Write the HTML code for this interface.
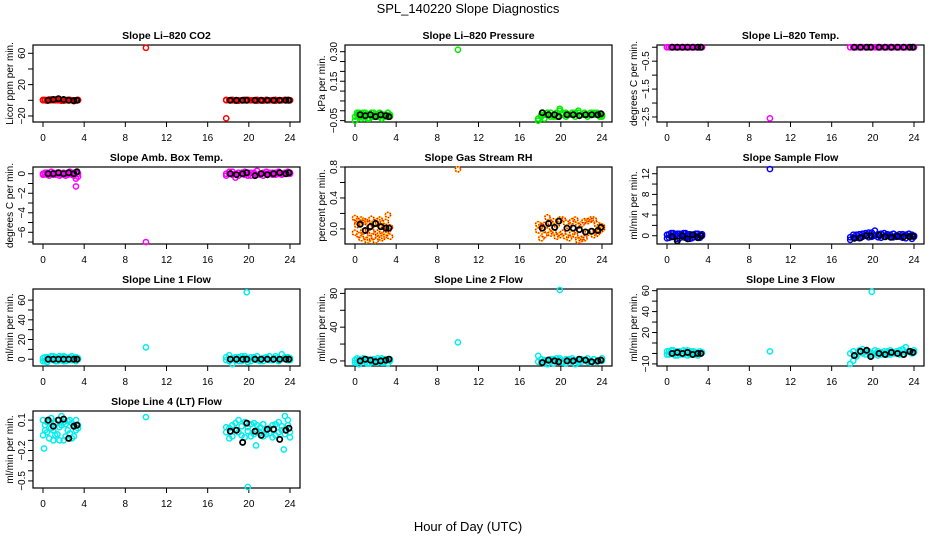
<!DOCTYPE html>
<html><head><meta charset="utf-8"><style>
html,body{margin:0;padding:0;background:#fff}
svg{display:block;font-family:"Liberation Sans",Arial,sans-serif}
</style></head><body>
<svg id="chart" width="936" height="540" viewBox="0 0 936 540">
<text x="468" y="13" text-anchor="middle" font-size="13">SPL_140220  Slope Diagnostics</text>
<text x="468" y="531" text-anchor="middle" font-size="13">Hour of Day (UTC)</text>
</svg>
<script>
// shared time arrays (hours UTC)
const colorTimes = [0,0.2,0.4,0.6,0.8,1.0,1.2,1.4,1.6,1.8,2.0,2.2,2.4,2.6,2.8,3.0,3.2,3.4,
  17.8,18.1,18.4,18.7,19.0,19.3,19.6,19.9,20.2,20.5,20.8,21.1,21.4,21.7,22.0,22.3,22.6,22.9,23.2,23.5,23.8,24.0];
const blackTimes = [0.5,1.0,1.5,2.0,2.5,3.0,3.3,18.2,18.8,19.4,19.8,20.6,21.2,21.8,22.4,23.0,23.6,23.9];
const xTicks = [0,4,8,12,16,20,24];

// Panel 1: CO2
const co2A = [0,0.5,0,1,0,0.5,1,0,0.5,0,-0.5,0,0.5,0,0,-1,0,0.5, 0,0,0.5,0,-0.5,0,0,0.5,0,0,-0.5,0,0,0.5,0,0,-0.5,0,0,0.5,0,0];
const co2B = [0.5,0,-0.5,0,1,0,0,0.5,0,-0.5,0,0,0,0.5,0,0,0,0, 0.5,0,0,-0.5,0,0,0.5,0,0,0,0.5,0,-0.5,0,0,0,0.5,0,0,0,0.5,0];
const co2Black = [0,1,2,1,0,-0.5,0, 0,0,0,0,0,0,0,0,0,0,0];
const co2OutT = [10,17.8], co2OutV = [67,-23];
// Panel 2: pressure
const presA = [-0.05,-0.02,-0.01,-0.03,-0.02,-0.01,-0.04,-0.02,-0.03,-0.01,-0.02,-0.03,-0.01,-0.02,-0.03,-0.02,-0.01,-0.03,
  -0.05,-0.03,-0.02,-0.01,-0.03,-0.02,-0.01,0.0,-0.02,-0.01,-0.02,-0.02,-0.01,0.0,-0.02,-0.01,-0.02,-0.01,-0.02,-0.01,-0.02,-0.03];
const presB = [-0.03,-0.01,-0.03,-0.04,-0.01,-0.03,-0.02,-0.04,-0.01,-0.03,-0.02,-0.02,-0.03,-0.04,-0.02,-0.03,-0.03,-0.02,
  -0.04,-0.02,-0.04,-0.02,-0.01,-0.03,-0.03,0.01,-0.01,-0.03,-0.02,-0.01,-0.03,-0.01,-0.02,-0.02,-0.03,-0.02,-0.01,-0.02,-0.03,-0.02];
const presBlack = [-0.02,-0.025,-0.02,-0.03,-0.02,-0.025,-0.03, -0.01,-0.02,-0.02,-0.03,-0.02,-0.02,-0.025,-0.02,-0.02,-0.02,-0.015];
const presOutT = [10], presOutV = [0.31];
// Panel 3: Li-820 temp
const tempA = [0,0,0,0,0,0,0,0,0,0,0,0,0,0,0,0,0,0, 0,0,0,0,0,0,0,0,0,0,0,0,0,0,0,0,0,0,0,0,0,0];
const tempB = [0,0,0,0,0,0,0,0,0,0,0,0,0,0,0,0,0,0, 0,0,0,0,0,0,0,0,0,0,0,0,0,0,0,0,0,0,0,0,0,0];
const tempBlack = [0,0,0,0,0,0,0, 0,0,0,0,0,0,0,0,0,0,0];
const tempOutT = [10], tempOutV = [-2.55];
// Panel 4: amb box temp
const ambA = [0,0.1,-0.1,0,0.2,-0.1,0,0.1,-0.2,0,0.1,0,-0.1,0.2,0,-0.2,0.1,-0.3, 0,0.2,-0.1,-0.4,0.1,0,0.2,-0.2,0.1,0,0.3,-0.1,0.1,0.2,0,0.1,-0.1,0.2,0,0.1,0.2,0];
const ambB = [-0.1,0,0.1,-0.2,0,0.1,-0.1,0,0.1,-0.1,0,-0.2,0.1,0,-0.1,0.1,-0.5,0, -0.2,0,0.2,0,-0.2,0.1,-0.1,0.1,-0.2,0.1,-0.1,0,-0.2,0,0.1,-0.1,0.1,0,-0.1,0,0,0.1];
const ambBlack = [0,0,0.1,0,0.1,0,0.2, 0,-0.1,0,0.1,-0.2,0,-0.1,0,0.1,0,0.1];
const ambOutT = [3.2,10], ambOutV = [-1.3,-7.0];
// Panel 5: RH
const rhA = [0.14,0.05,-0.08,0.12,-0.03,0.1,-0.15,0.02,0.13,-0.1,0.07,-0.05,0.12,-0.12,0.04,0.09,-0.02,-0.1,
  -0.02,-0.12,0.05,0.15,-0.06,0.1,-0.1,0.12,-0.05,0.08,-0.12,0.1,-0.08,0.04,-0.13,0.1,-0.05,0.12,-0.08,0.06,-0.02,0.03];
const rhB = [-0.05,0.1,0.08,-0.12,0.1,-0.08,0.08,-0.12,-0.03,0.06,-0.15,0.1,-0.07,0.03,-0.1,-0.05,0.18,0.02,
  0.06,0.04,-0.08,-0.02,0.08,-0.04,0.05,-0.08,0.12,-0.1,0.03,-0.06,0.12,-0.15,0.06,-0.12,0.1,-0.03,0.12,-0.06,0.04,0.0];
const rhBlack = [0.06,-0.02,0.03,0.07,0.03,0.01,0.01, 0.01,0.07,0.02,0.1,0.01,0.01,-0.01,-0.04,-0.03,-0.02,0.02];
const rhOutT = [10], rhOutV = [0.77];
// Panel 6: sample flow
const flowA = [-0.5,0.3,-0.2,0.5,0,-0.6,0.4,0.1,-0.3,0.5,-0.2,0.3,-0.5,0.2,0.4,-0.3,0.1,0.3, -0.8,-0.3,0.2,-0.5,0.4,0,0.6,-0.2,1.0,0.3,-0.4,0.5,0,-0.3,0.4,-0.2,0.3,-0.4,0.2,0.4,-0.6,0];
const flowB = [0.2,-0.4,0.5,-0.2,0.3,0.4,-0.5,0.3,0.5,-0.4,0.3,-0.6,0.2,-0.3,-0.1,0.4,-0.4,0, -0.3,0.2,-0.4,0.3,-0.2,0.5,-0.3,0.6,0,-0.3,0.4,-0.2,0.3,0.2,-0.3,0.1,-0.2,0.3,-0.5,-0.1,0.2,-0.2];
const flowBlack = [-0.2,-1.0,0,-0.6,0.2,-0.4,0, -0.5,-0.4,0,0,0.1,-0.2,-0.3,-0.1,-0.2,-0.2,-0.1];
const flowOutT = [10], flowOutV = [12.9];
// Panel 7: line 1
const l1A = [-2,2,-3,1,3,-1,2,-2,3,0,-2,2,1,-1,3,0,-2,1, -1,4,-5,2,-2,3,1,-3,2,0,3,-2,1,2,-1,0,3,-1,5,2,-1,1];
const l1B = [1,-2,2,-1,0,3,-2,1,-1,2,3,-2,0,2,-1,1,2,0, 2,-2,1,-1,2,-2,3,1,-2,2,-1,0,-2,1,3,-1,1,-2,0,1,2,-1];
const l1Black = [0,0,0,0,0,0,0, 0,0,0,0,0,0,0,0,0,0,0];
const l1OutT = [10,19.8], l1OutV = [12,68];
// Panel 8: line 2
const l2A = [-2,3,-4,1,3,-1,2,-3,1,0,-2,3,1,-2,2,0,-3,2, 6,-2,1,-4,2,-3,3,1,-2,2,0,3,-4,2,-1,1,3,-2,2,0,1,3];
const l2B = [1,-2,2,-1,0,2,-3,1,-1,2,1,-2,0,3,-2,1,2,0, -1,2,-3,1,-1,2,-1,3,-1,-3,2,-1,1,-2,2,1,-1,0,2,-1,1,0];
const l2Black = [0,2,1,-1,0,1,2, -2,1,0,-1,0,0,2,1,-1,0,1];
const l2OutT = [10,19.9], l2OutV = [22,84];
// Panel 9: line 3
const l3A = [2,-1,3,0,-2,2,1,-1,3,2,-2,0,1,2,-1,0,2,1, -10,-7,-3,2,4,-1,2,0,3,-2,1,2,-1,3,0,2,-1,4,6,2,1,3];
const l3B = [-1,2,0,3,1,-2,2,0,-1,1,3,-1,2,0,1,-2,0,1, 0,2,-1,3,0,2,1,-2,0,2,-1,0,2,-1,1,0,3,-1,1,2,0,1];
const l3Black = [0,1,0,1,-1,0,0, -2,2,3,-3,0,-1,1,0,-1,2,1];
const l3OutT = [10,19.9], l3OutV = [2,59];
// Panel 10: line 4 (LT)
const l4A = [0.1,0.05,-0.02,0.08,0.12,0.0,-0.05,0.1,0.03,0.14,-0.1,0.06,0.0,0.1,-0.08,0.05,0.1,0.02,
  -0.02,-0.08,0.05,0.0,0.1,-0.05,0.08,0.03,-0.06,0.07,0.0,-0.03,0.06,-0.04,0.02,0.05,-0.05,0.08,0.0,0.14,0.05,-0.02];
const l4B = [-0.05,0.0,0.08,-0.08,0.02,-0.1,0.07,-0.04,-0.1,0.05,0.08,-0.06,0.09,-0.03,0.07,-0.06,0.0,0.05,
  0.03,0.02,-0.06,0.07,-0.02,0.04,-0.07,-0.01,0.06,-0.04,0.05,0.03,-0.06,0.0,-0.03,-0.07,0.06,-0.02,0.04,-0.04,0.1,-0.07];
const l4Black = [0.1,0.04,0.1,0.11,-0.08,0.04,0.05, -0.01,0.0,-0.12,0.07,-0.01,-0.05,0.01,0.01,-0.09,0.0,0.02];
const l4OutT = [10,19.9,0.1,23.4,20.7], l4OutV = [0.13,-0.56,-0.18,-0.19,-0.15];

const panels = [
 {col:0,row:0,name:'co2',title:'Slope Li\u2013820 CO2',ylab:'Licor ppm per min.',ylim:[-27.7,70.6],ticks:[-20,0,20,40,60],labels:['-20','','20','','60'],color:'#ff0000',a:co2A,b:co2B,k:co2Black,ot:co2OutT,ov:co2OutV},
 {col:1,row:0,name:'pressure',title:'Slope Li\u2013820 Pressure',ylab:'kPa per min.',ylim:[-0.057,0.334],ticks:[-0.05,0,0.05,0.10,0.15,0.20,0.25,0.30],labels:['-0.05','','','','0.15','','','0.30'],color:'#00ee00',a:presA,b:presB,k:presBlack,ot:presOutT,ov:presOutV},
 {col:2,row:0,name:'li820-temp',title:'Slope Li\u2013820 Temp.',ylab:'degrees C per min.',ylim:[-2.68,0.08],ticks:[-2.5,-2,-1.5,-1,-0.5,0],labels:['-2.5','','-1.5','','-0.5',''],color:'#ff00ff',a:tempA,b:tempB,k:tempBlack,ot:tempOutT,ov:tempOutV},
 {col:0,row:1,name:'amb-box-temp',title:'Slope Amb. Box Temp.',ylab:'degrees C per min.',ylim:[-7.2,0.69],ticks:[-7,-6,-5,-4,-3,-2,-1,0],labels:['','-6','','-4','','-2','','0'],color:'#ff00ff',a:ambA,b:ambB,k:ambBlack,ot:ambOutT,ov:ambOutV},
 {col:1,row:1,name:'gas-stream-rh',title:'Slope Gas Stream RH',ylab:'percent per min.',ylim:[-0.195,0.8],ticks:[0,0.2,0.4,0.6,0.8],labels:['0.0','','0.4','','0.8'],color:'#ffd000',dots:'#ff0000',a:rhA,b:rhB,k:rhBlack,ot:rhOutT,ov:rhOutV},
 {col:2,row:1,name:'sample-flow',title:'Slope Sample Flow',ylab:'ml/min per min.',ylim:[-1.6,13.3],ticks:[0,2,4,6,8,10,12],labels:['0','','4','','8','','12'],color:'#0000ff',a:flowA,b:flowB,k:flowBlack,ot:flowOutT,ov:flowOutV},
 {col:0,row:2,name:'line1-flow',title:'Slope Line 1 Flow',ylab:'ml/min per min.',ylim:[-6.9,71.3],ticks:[0,10,20,30,40,50,60],labels:['0','','20','','40','','60'],color:'#00eeee',a:l1A,b:l1B,k:l1Black,ot:l1OutT,ov:l1OutV},
 {col:1,row:2,name:'line2-flow',title:'Slope Line 2 Flow',ylab:'ml/min per min.',ylim:[-6,85.2],ticks:[0,20,40,60,80],labels:['0','','40','','80'],color:'#00eeee',a:l2A,b:l2B,k:l2Black,ot:l2OutT,ov:l2OutV},
 {col:2,row:2,name:'line3-flow',title:'Slope Line 3 Flow',ylab:'ml/min per min.',ylim:[-12,61.6],ticks:[-10,0,10,20,30,40,50,60],labels:['-10','','','20','','40','','60'],color:'#00eeee',a:l3A,b:l3B,k:l3Black,ot:l3OutT,ov:l3OutV},
 {col:0,row:3,name:'line4-flow',title:'Slope Line 4 (LT) Flow',ylab:'ml/min per min.',ylim:[-0.57,0.19],ticks:[-0.5,-0.4,-0.3,-0.2,-0.1,0,0.1],labels:['-0.5','','','-0.2','','','0.1'],color:'#00eeee',a:l4A,b:l4B,k:l4Black,ot:l4OutT,ov:l4OutV}
];

const NS='http://www.w3.org/2000/svg';
const svg=document.getElementById('chart');
function mk(tag,attrs,parent){const e=document.createElementNS(NS,tag);for(const k in attrs)e.setAttribute(k,attrs[k]);(parent||svg).appendChild(e);return e;}

panels.forEach(p=>{
  const g=mk('g',{});
  
  
  const x0=p.col*312+33, x1=p.col*312+300, y0=45+p.row*122, y1=122+p.row*122;
  const xs=t=>x0+10+t*247/24;
  const ys=v=>y1-(v-p.ylim[0])/(p.ylim[1]-p.ylim[0])*(y1-y0);
  const title=mk('text',{x:(x0+x1)/2,y:y0-6,'text-anchor':'middle','font-size':10.5,'font-weight':'bold'},g);
  title.textContent=p.title;
  
  
  const box=mk('rect',{x:x0,y:y0,width:x1-x0,height:y1-y0,fill:'none',stroke:'#000','stroke-width':1.2},g);
  
  
  // x axis (on box edge)
  const xa=mk('g',{stroke:'#000','stroke-width':1},g);
  
  
  xTicks.forEach(t=>{
    mk('line',{x1:xs(t),x2:xs(t),y1:y1,y2:y1+5},xa);
    const tl=mk('text',{x:xs(t),y:y1+19,'text-anchor':'middle','font-size':10,stroke:'none'},xa);
    tl.textContent=t;
    
    
  });
  // y axis (on box edge)
  const ya=mk('g',{stroke:'#000','stroke-width':1},g);
  
  
  p.ticks.forEach((t,i)=>{
    mk('line',{x1:x0-5,x2:x0,y1:ys(t),y2:ys(t)},ya);
    if(p.labels[i]){
      const yl=mk('text',{x:0,y:0,transform:`translate(${x0-8},${ys(t)}) rotate(-90)`,'text-anchor':'middle','font-size':10,stroke:'none'},ya);
      yl.textContent=p.labels[i].replace('-','\u2212');
      
      
    }
  });
  const yt=mk('text',{x:0,y:0,transform:`translate(${p.col*312+13},${(y0+y1)/2}) rotate(-90)`,'text-anchor':'middle','font-size':10},g);
  yt.textContent=p.ylab;
  
  
  // colored points
  const cg=mk('g',{fill:'none',stroke:p.color,'stroke-width':1.5},g);
  
  
  const drawC=(t,v)=>{
    const c=mk('circle',{cx:xs(t),cy:ys(v),r:2.6},cg);
    
    
    if(p.dots){mk('circle',{cx:xs(t),cy:ys(v),r:2.6,stroke:p.dots,'stroke-dasharray':'1.2 1.6'},cg);}
  };
  colorTimes.forEach((t,i)=>{drawC(t,p.a[i]);drawC(t,p.b[i]);});
  p.ot.forEach((t,i)=>drawC(t,p.ov[i]));
  // black points
  const kg=mk('g',{fill:'none',stroke:'#000','stroke-width':1.8},g);
  
  
  blackTimes.forEach((t,i)=>{
    const c=mk('circle',{cx:xs(t),cy:ys(p.k[i]),r:2.6},kg);
    
    
  });
});
</script>
</body></html>
